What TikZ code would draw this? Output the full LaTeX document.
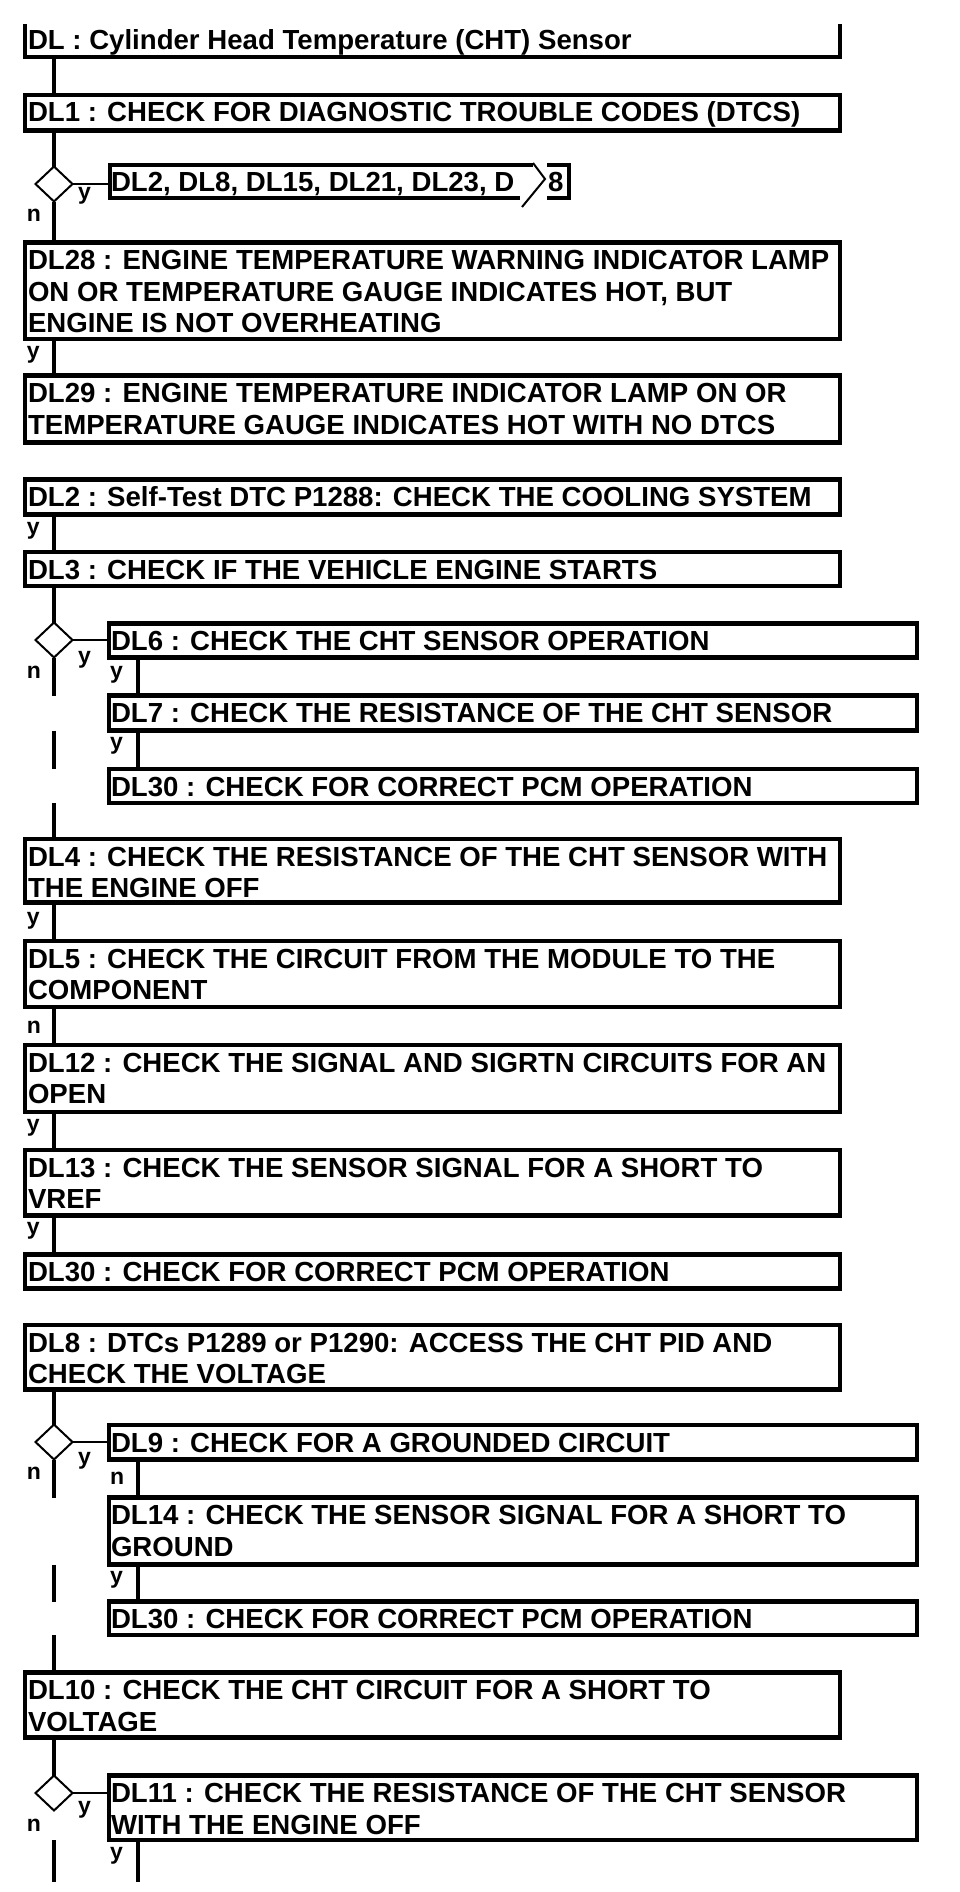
\documentclass[tikz,border=0pt]{standalone}
\usepackage{fontspec}
\setmainfont{Liberation Sans}
\usetikzlibrary{shapes.geometric,calc}
\newcommand\dlfont{\fontsize{27.6pt}{31.7pt}\selectfont\bfseries}
\newcommand\dllab{\fontsize{23pt}{27pt}\selectfont\bfseries}
\newcommand\dllines[1]{\begin{tabular}[t]{@{}l@{}}#1\end{tabular}}
\begin{document}
\begin{tikzpicture}[x=1pt,y=-1pt,
 box/.style={draw, line width=4.5pt, rectangle, inner sep=0pt, outer sep=0pt, anchor=north west},
 mainbox/.style={box, minimum width=815pt},
 indbox/.style={box, minimum width=808pt},
 hidden/.style={rectangle, inner sep=0pt, outer sep=0pt, anchor=north west},
 conn/.style={line width=4pt},
 thinl/.style={line width=2pt},
 txt/.style={anchor=base west, inner sep=0pt, outer sep=0pt, font=\dlfont},
 lbl/.style={anchor=base west, inner sep=0pt, outer sep=0pt, font=\dllab},
 dia/.style={draw, diamond, line width=2pt, minimum width=37pt, minimum height=35pt, inner sep=0pt, outer sep=0pt},
]
\fill[white] (0,0) rectangle (960,1892);
\useasboundingbox (0,0) rectangle (960,1892);
\coordinate (mx) at (54,0);
\coordinate (ix) at (137.5,0);
\coordinate (end) at (0,1882);

% title
\node[hidden, minimum width=815pt, minimum height=33pt] (title) at (25,24) {};
\draw[line width=4.5pt] (title.north west) -- (title.south west) -- (title.south east) -- (title.north east);
\node[txt] (ttitle) at (28,50) {DL : Cylinder Head Temperature (CHT) Sensor};

% DL1
\node[mainbox, minimum height=35.5pt] (dl1) at (25,95) {};
\node[txt] (tdl1) at (28,122) {DL1 : CHECK FOR DIAGNOSTIC TROUBLE CODES (DTCS)};
\node[dia] (d1) at (54,184) {};
\node[hidden, minimum width=459pt, minimum height=33pt] (jmp) at (110,165) {};
\draw[line width=4pt] ($(jmp.north west)+(423,0)$) -- (jmp.north west) -- (jmp.south west) -- ($(jmp.south west)+(410,0)$);
\draw[line width=4pt] ($(jmp.north west)+(437,0)$) -- (jmp.north east) -- (jmp.south east) -- ($(jmp.south west)+(437,0)$);
\draw[thinl] ($(jmp.north west)+(423,-2)$) -- ($(jmp.north west)+(435,14)$) -- ($(jmp.north west)+(412,42)$);
\node[txt] (tjmp) at (111,191) {DL2, DL8, DL15, DL21, DL23, D};
\node[txt] (tjmp8) at (548,191) {8};

% DL28, DL29
\node[mainbox, minimum height=96.5pt] (dl28) at (25,242.5) {};
\node[txt] (tdl28) at (28,269.5) {\dllines{DL28 : ENGINE TEMPERATURE WARNING INDICATOR LAMP\\ON OR TEMPERATURE GAUGE INDICATES HOT, BUT\\ENGINE IS NOT OVERHEATING}};
\node[mainbox, minimum height=67pt] (dl29) at (25,375.5) {};
\node[txt] (tdl29) at (28,402.5) {\dllines{DL29 : ENGINE TEMPERATURE INDICATOR LAMP ON OR\\TEMPERATURE GAUGE INDICATES HOT WITH NO DTCS}};

% DL2, DL3
\node[mainbox, minimum height=35pt] (dl2) at (25,479.5) {};
\node[txt] (tdl2) at (28,506.5) {DL2 : Self-Test DTC P1288: CHECK THE COOLING SYSTEM};
\node[mainbox, minimum height=34pt] (dl3) at (25,552) {};
\node[txt] (tdl3) at (28,579) {DL3 : CHECK IF THE VEHICLE ENGINE STARTS};
\node[dia] (d2) at (54,640) {};
\node[indbox, minimum height=34pt] (dl6) at (109,623.5) {};
\node[txt] (tdl6) at (111,650.5) {DL6 : CHECK THE CHT SENSOR OPERATION};
\node[indbox, minimum height=35pt] (dl7) at (109,695.5) {};
\node[txt] (tdl7) at (111,722.5) {DL7 : CHECK THE RESISTANCE OF THE CHT SENSOR};
\node[indbox, minimum height=34pt] (dl30a) at (109,769) {};
\node[txt] (tdl30a) at (111,796) {DL30 : CHECK FOR CORRECT PCM OPERATION};

% DL4 ... DL30
\node[mainbox, minimum height=63.5pt] (dl4) at (25,839) {};
\node[txt] (tdl4) at (28,866) {\dllines{DL4 : CHECK THE RESISTANCE OF THE CHT SENSOR WITH\\THE ENGINE OFF}};
\node[mainbox, minimum height=66pt] (dl5) at (25,941) {};
\node[txt] (tdl5) at (28,968) {\dllines{DL5 : CHECK THE CIRCUIT FROM THE MODULE TO THE\\COMPONENT}};
\node[mainbox, minimum height=67pt] (dl12) at (25,1045) {};
\node[txt] (tdl12) at (28,1072) {\dllines{DL12 : CHECK THE SIGNAL AND SIGRTN CIRCUITS FOR AN\\OPEN}};
\node[mainbox, minimum height=65.5pt] (dl13) at (25,1150) {};
\node[txt] (tdl13) at (28,1177) {\dllines{DL13 : CHECK THE SENSOR SIGNAL FOR A SHORT TO\\VREF}};
\node[mainbox, minimum height=34pt] (dl30b) at (25,1254.5) {};
\node[txt] (tdl30b) at (28,1281.5) {DL30 : CHECK FOR CORRECT PCM OPERATION};

% DL8 ...
\node[mainbox, minimum height=64.5pt] (dl8) at (25,1325) {};
\node[txt] (tdl8) at (28,1352) {\dllines{DL8 : DTCs P1289 or P1290: ACCESS THE CHT PID AND\\CHECK THE VOLTAGE}};
\node[dia] (d3) at (54,1442) {};
\node[indbox, minimum height=34.5pt] (dl9) at (109,1425) {};
\node[txt] (tdl9) at (111,1452) {DL9 : CHECK FOR A GROUNDED CIRCUIT};
\node[indbox, minimum height=67pt] (dl14) at (109,1497.5) {};
\node[txt] (tdl14) at (111,1524.5) {\dllines{DL14 : CHECK THE SENSOR SIGNAL FOR A SHORT TO\\GROUND}};
\node[indbox, minimum height=33.5pt] (dl30c) at (109,1601.5) {};
\node[txt] (tdl30c) at (111,1628.5) {DL30 : CHECK FOR CORRECT PCM OPERATION};
\node[mainbox, minimum height=65pt] (dl10) at (25,1672.5) {};
\node[txt] (tdl10) at (28,1699.5) {\dllines{DL10 : CHECK THE CHT CIRCUIT FOR A SHORT TO\\VOLTAGE}};
\node[dia] (d4) at (54,1793) {};
\node[indbox, minimum height=64.5pt] (dl11) at (109,1775.5) {};
\node[txt] (tdl11) at (111,1802.5) {\dllines{DL11 : CHECK THE RESISTANCE OF THE CHT SENSOR\\WITH THE ENGINE OFF}};

% connectors
\draw[conn] (title.south -| mx) -- (dl1.north -| mx);
\draw[conn] (dl1.south -| mx) -- (d1.north);
\draw[thinl] (d1.east) -- (d1.east -| jmp.west);
\draw[conn] (d1.south) -- (dl28.north -| mx);
\draw[conn] (dl28.south -| mx) -- (dl29.north -| mx);
\draw[conn] (dl2.south -| mx) -- (dl3.north -| mx);
\draw[conn] (dl3.south -| mx) -- (d2.north);
\draw[thinl] (d2.east) -- (d2.east -| dl6.west);
\draw[conn] (d2.south) -- (mx |- dl7.north);
\draw[conn] (mx |- dl7.south) -- (mx |- dl30a.north);
\draw[conn] (mx |- dl30a.south) -- (mx |- dl4.north);
\draw[conn] (ix |- dl6.south) -- (ix |- dl7.north);
\draw[conn] (ix |- dl7.south) -- (ix |- dl30a.north);
\draw[conn] (mx |- dl4.south) -- (mx |- dl5.north);
\draw[conn] (mx |- dl5.south) -- (mx |- dl12.north);
\draw[conn] (mx |- dl12.south) -- (mx |- dl13.north);
\draw[conn] (mx |- dl13.south) -- (mx |- dl30b.north);
\draw[conn] (mx |- dl8.south) -- (d3.north);
\draw[thinl] (d3.east) -- (d3.east -| dl9.west);
\draw[conn] (d3.south) -- (mx |- dl14.north);
\draw[conn] (mx |- dl14.south) -- (mx |- dl30c.north);
\draw[conn] (mx |- dl30c.south) -- (mx |- dl10.north);
\draw[conn] (ix |- dl9.south) -- (ix |- dl14.north);
\draw[conn] (ix |- dl14.south) -- (ix |- dl30c.north);
\draw[conn] (mx |- dl10.south) -- (d4.north);
\draw[thinl] (d4.east) -- (d4.east -| dl11.west);
\draw[conn] (mx |- dl11.south) -- (mx |- end);
\draw[conn] (ix |- dl11.south) -- (ix |- end);

% labels
\node[lbl] (l1y) at (78,199) {y};
\node[lbl] (l1n) at (27,221) {n};
\node[lbl] (l28y) at (27,358) {y};
\node[lbl] (l2y) at (27,534) {y};
\node[lbl] (l3y) at (78,663) {y};
\node[lbl] (l3n) at (27,678) {n};
\node[lbl] (l6y) at (110,678) {y};
\node[lbl] (l7y) at (110,749) {y};
\node[lbl] (l4y) at (27,924) {y};
\node[lbl] (l5n) at (27,1033) {n};
\node[lbl] (l12y) at (27,1131) {y};
\node[lbl] (l13y) at (27,1234) {y};
\node[lbl] (l8y) at (78,1464) {y};
\node[lbl] (l8n) at (27,1479) {n};
\node[lbl] (l9n) at (110,1484) {n};
\node[lbl] (l14y) at (110,1583) {y};
\node[lbl] (l10y) at (78,1813) {y};
\node[lbl] (l10n) at (27,1831) {n};
\node[lbl] (l11y) at (110,1859) {y};
\end{tikzpicture}
\end{document}
